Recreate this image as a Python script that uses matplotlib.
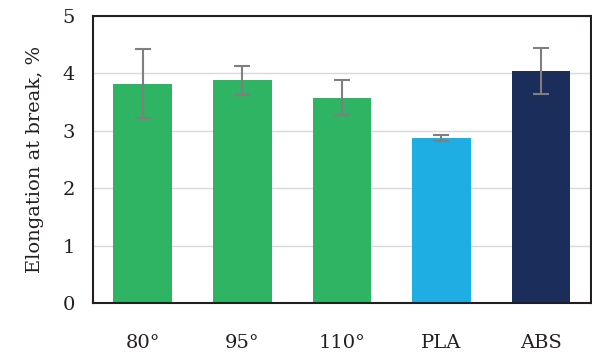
import matplotlib
matplotlib.use("Agg")
import matplotlib.pyplot as plt

categories = ["80°", "95°", "110°", "PLA", "ABS"]
values = [3.82, 3.88, 3.58, 2.88, 4.04]
errors = [0.60, 0.25, 0.30, 0.05, 0.40]
colors = ["#2EB462", "#2EB462", "#2EB462", "#1FAEE4", "#1B2D5A"]

plt.rcParams['font.family'] = ['DejaVu Serif']

fig = plt.figure(figsize=(5.92, 3.56), dpi=100)
ax = fig.add_axes([0.157, 0.149, 0.841, 0.806])

x = range(len(categories))
ax.bar(x, values, width=0.59, color=colors, zorder=2,
       yerr=errors, error_kw=dict(ecolor="#7F7F7F", elinewidth=1.5, capsize=5.5, capthick=1.5, zorder=3))

ax.set_xlim(-0.5, 4.5)
ax.set_ylim(0, 5)
ax.set_yticks([0, 1, 2, 3, 4, 5])
ax.set_xticks(list(x))
ax.set_xticklabels(categories)
ax.grid(axis='y', color="#D9D9D9", linewidth=1.0, zorder=0)
ax.set_axisbelow(True)
for s in ax.spines.values():
    s.set_color("#231F20")
    s.set_linewidth(1.5)
ax.tick_params(axis='both', length=0, labelsize=14, colors="#231F20")
ax.tick_params(axis='y', pad=13)
ax.tick_params(axis='x', pad=22)
ax.set_ylabel("Elongation at break, %", fontsize=14, color="#231F20", labelpad=13)

fig.savefig("out.png", dpi=100)
